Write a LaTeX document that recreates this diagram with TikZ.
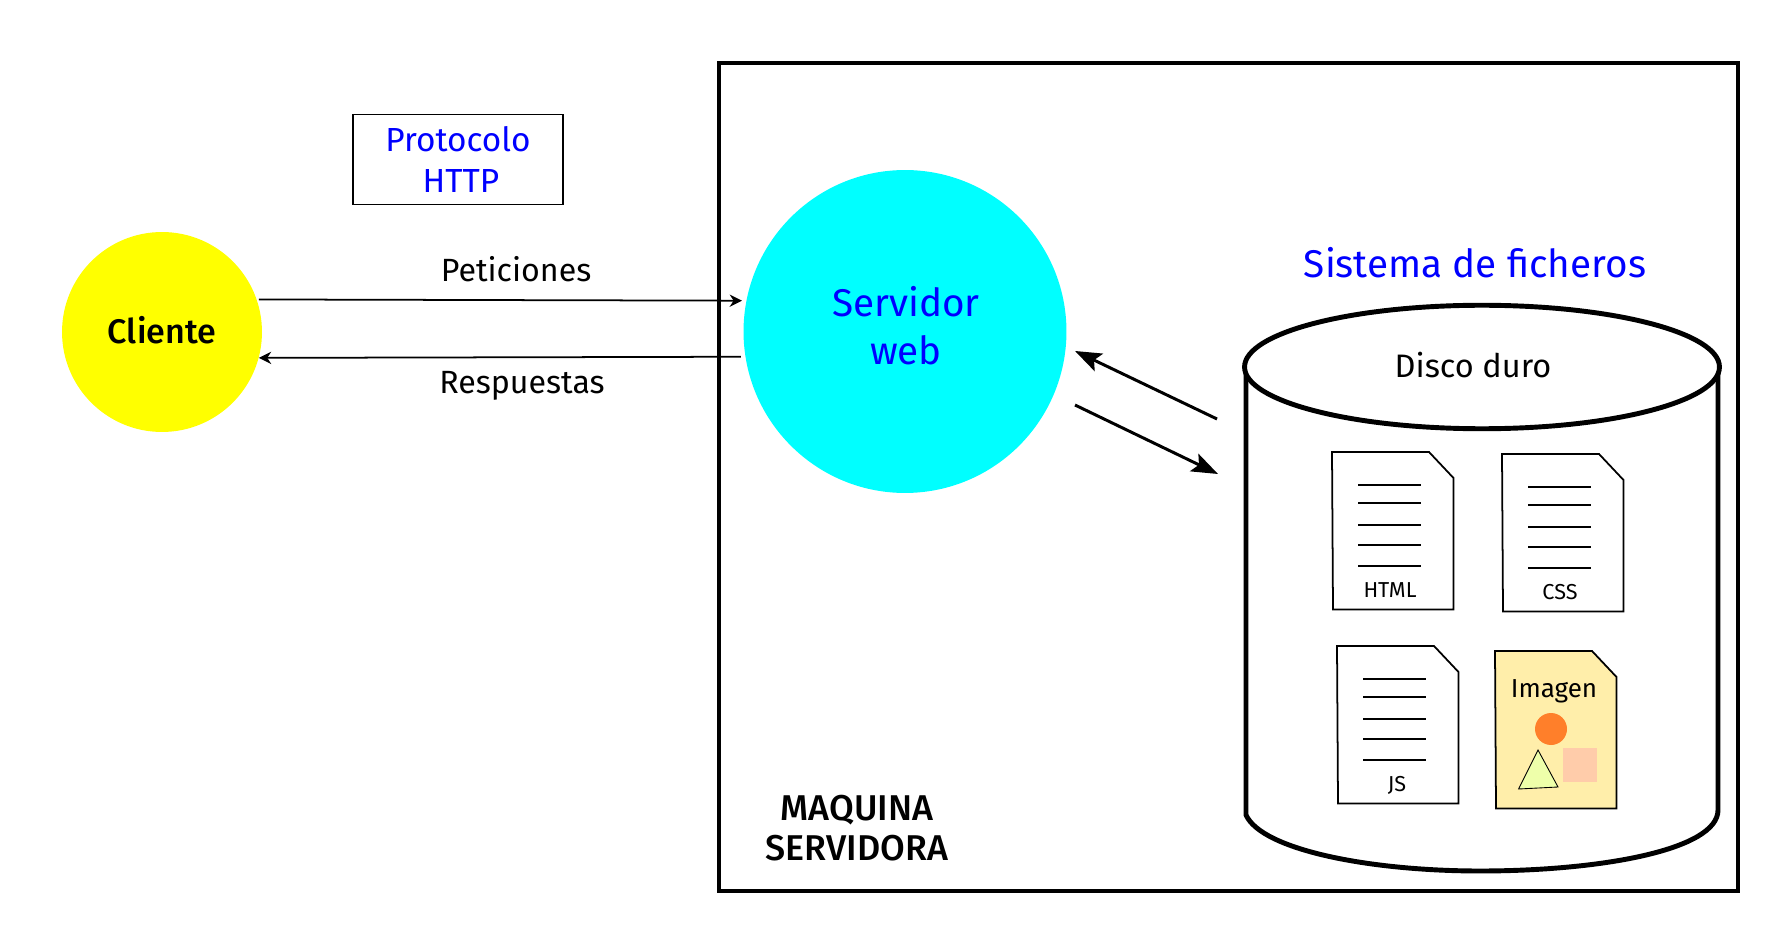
\documentclass[tikz,border=0pt]{standalone}
\usepackage{fontspec}
\setmainfont{Fira Sans}
\newfontfamily\medfont{Fira Sans Medium}
\usetikzlibrary{arrows.meta}
\usetikzlibrary{shapes.geometric}
\definecolor{azul}{RGB}{0,0,255}
\definecolor{cian}{RGB}{0,255,255}
\definecolor{amarillo}{RGB}{255,255,0}
\definecolor{hojaimg}{HTML}{FFEEAA}
\definecolor{naranja}{HTML}{FF7F2A}
\definecolor{salmon}{HTML}{FFCCAA}
\definecolor{lima}{HTML}{EEFFAA}
\newcommand\sz[2]{\fontsize{#1}{#2}\selectfont}
\newcommand\docfile[4]{
\begin{scope}[shift={(#1,#2)}]
\draw[docline,fill=#3] (0,0)--(97,0)--(121.5,26)--(121.5,157.5)--(1,157.5)--cycle;
#4
\end{scope}
}
\newcommand\doclines{
\foreach \ly in {33,51,73,93,114}
\draw[textline] (26,\ly)--(89,\ly);
}
\tikzset{
docline/.style={black,line width=1pt,line join=miter},
textline/.style={black,line width=1pt},
thin arrow/.style={black,line width=1pt,-{Stealth[length=7pt,width=7pt]}},
disk arrow/.style={black,line width=1.7pt,-{Stealth[length=15pt,width=11pt,inset=3pt]}},
label/.style={inner sep=0,outer sep=0,align=center}
}

\begin{document}
\begin{tikzpicture}[x=0.02cm,y=-0.02cm]

\useasboundingbox (0,0) rectangle (1789,942);

\coordinate (srvA) at (1075,351);
\coordinate (discoA) at (1217,419);
\coordinate (srvB) at (1075,405);
\coordinate (discoB) at (1218,474);

% maquina
\draw[black,line width=2.4pt] (719,63) rectangle (1738,891);
\node[label,font=\medfont\sz{20.4}{22.8}] (maquina) at (857,828) {MAQUINA\\SERVIDORA};

% cliente y servidor
\node[circle,fill=amarillo,minimum size=4cm,inner sep=0,outer sep=0] (cliente) at (162,332) {};
\node[label,font=\medfont\sz{19.4}{22}] (clientetxt) at (162,330) {Cliente};
\node[circle,fill=cian,minimum size=6.46cm,inner sep=0,outer sep=0] (servidor) at (905,331.5) {};
\node[label,text=azul,font=\sz{22}{27.5}] (servidortxt) at (906,326) {Servidor\\web};

\node[draw=black,line width=1pt,text=azul,minimum width=4.2cm,minimum height=1.8cm,inner sep=0,align=center,font=\sz{19}{22.8}] (protocolo) at (458,159.5) {Protocolo\\\hspace{0.12cm}HTTP};

\draw[thin arrow,shorten <=1.3pt,shorten >=2.6pt] (cliente.19.1)--(servidor.169.36);
\draw[thin arrow,shorten <=2.6pt,shorten >=0.2pt] (servidor.189.05)--(cliente.-15);
\node[label,font=\sz{18.3}{22}] (peticiones) at (516,269) {Peticiones};
\node[label,font=\sz{18.3}{22}] (respuestas) at (522,386) {Respuestas};

\draw[disk arrow] (discoA)--(srvA);
\draw[disk arrow] (srvB)--(discoB);

% disco
\node[label,text=azul,font=\sz{22}{28}] (sistema) at (1475,263) {Sistema de ficheros};
\draw[black,line width=2.8pt] (1246,367)--(1246,815) .. controls (1262,850) and (1370,871) .. (1480,871) .. controls (1600,871) and (1718,850) .. (1718,810)--(1718,367);
\node[ellipse,draw=black,fill=white,line width=2.8pt,minimum width=9.5cm,minimum height=2.47cm,inner sep=0] (disco) at (1482,367) {};
\node[label,font=\sz{18.5}{22}] (discotxt) at (1473,365) {Disco duro};

% ficheros
\docfile{1332}{452}{white}{\doclines}
\node[label,font=\sz{12.3}{15}] (html) at (1390,590) {HTML};
\docfile{1502}{454}{white}{\doclines}
\node[label,font=\sz{12.3}{15}] (css) at (1560,592) {CSS};
\docfile{1337}{646}{white}{\doclines}
\node[label,font=\sz{12.3}{15}] (js) at (1397,785) {JS};
\docfile{1495}{651}{hojaimg}{}
\node[label,font=\sz{14.8}{18}] (imagen) at (1554,691) {Imagen};
\fill[naranja] (1551,729) circle (16);
\fill[salmon] (1563,748) rectangle (1597,782);
\draw[black,line width=0.5pt,fill=lima] (1538,750)--(1518.6,789)--(1558,787)--cycle;

\end{tikzpicture}
\end{document}
